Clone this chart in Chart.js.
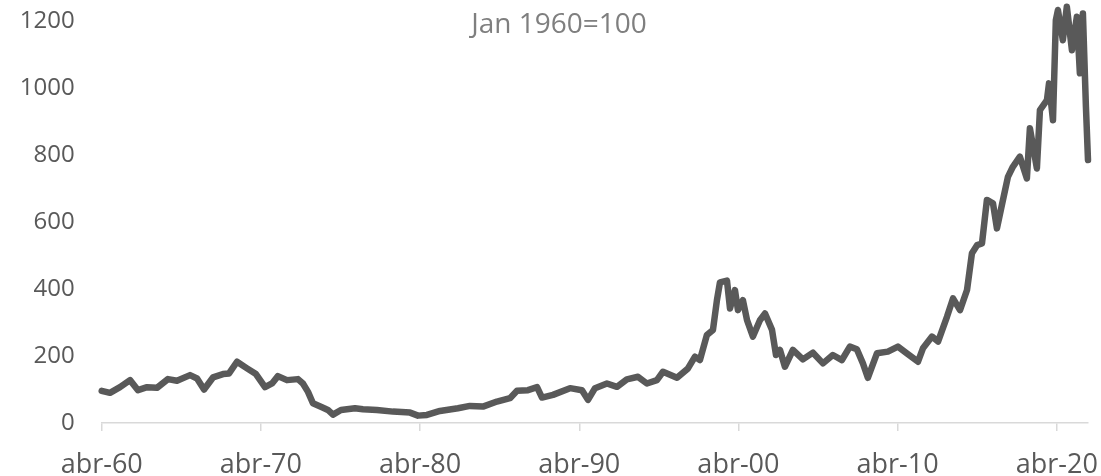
<!DOCTYPE html>
<html>
<head>
<meta charset="utf-8">
<script src="https://cdn.jsdelivr.net/npm/chart.js@4"></script>
<style>
    html, body { margin: 0; padding: 0; background: #fff; }
    canvas { display: block; }
</style>
</head>
<body>
<canvas id="indexChart" width="1101" height="476"></canvas>
<script>
// x: decimal year, y: index (Jan 1960 = 100)
const years = [
    1960.25, 1960.77, 1961.40, 1962.03, 1962.53, 1963.10, 1963.72, 1964.41, 1964.98, 1965.80,
    1966.24, 1966.68, 1967.24, 1967.87, 1968.25, 1968.75, 1969.38, 1969.94, 1970.51, 1970.95,
    1971.32, 1971.89, 1972.58, 1972.89, 1973.21, 1973.52, 1974.09, 1974.46, 1974.78, 1975.28,
    1976.16, 1976.66, 1977.54, 1978.55, 1979.62, 1980.12, 1980.68, 1981.50, 1982.63, 1983.38,
    1984.20, 1985.08, 1985.90, 1986.34, 1987.03, 1987.60, 1987.91, 1988.60, 1989.67, 1990.42,
    1990.80, 1991.24, 1991.99, 1992.62, 1993.24, 1993.94, 1994.50, 1995.13, 1995.51, 1996.39,
    1997.08, 1997.52, 1997.83, 1998.27, 1998.65, 1998.90, 1999.09, 1999.53, 1999.72, 2000.03,
    2000.22, 2000.53, 2000.79, 2001.16, 2001.60, 2001.92, 2002.36, 2002.61, 2002.86, 2003.17,
    2003.67, 2004.30, 2004.93, 2005.56, 2006.18, 2006.75, 2007.25, 2007.69, 2008.07, 2008.38,
    2008.95, 2009.64, 2010.27, 2010.83, 2011.53, 2011.84, 2012.41, 2012.79, 2013.35, 2013.73,
    2014.17, 2014.61, 2014.92, 2015.24, 2015.55, 2015.86, 2016.24, 2016.49, 2016.80, 2017.18,
    2017.49, 2017.93, 2018.37, 2018.56, 2019.00, 2019.19, 2019.63, 2019.76, 2020.01, 2020.19,
    2020.32, 2020.63, 2020.88, 2021.20, 2021.51, 2021.70, 2021.89, 2022.08, 2022.21
];
const values = [
    96, 90, 107, 128, 98, 107, 105, 131, 126, 143,
    133, 100, 136, 146, 148, 183, 163, 146, 107, 118,
    140, 128, 131, 118, 93, 59, 47, 39, 25, 39,
    44, 41, 39, 34, 31, 22, 24, 36, 44, 51,
    49, 64, 74, 96, 98, 107, 76, 84, 104, 98,
    69, 104, 118, 108, 130, 138, 118, 128, 153, 135,
    163, 198, 188, 263, 278, 367, 420, 425, 342, 397,
    337, 367, 307, 258, 307, 327, 278, 203, 218, 168,
    218, 190, 210, 178, 203, 188, 228, 220, 178, 135,
    208, 213, 228, 208, 183, 223, 258, 243, 317, 372,
    337, 397, 507, 531, 536, 666, 656, 581, 651, 735,
    765, 795, 730, 880, 760, 934, 964, 1014, 904, 1203,
    1233, 1143, 1243, 1113, 1213, 1044, 1223, 944, 785
];

const yTicks = [0, 200, 400, 600, 800, 1000, 1200];
const xTickYears = [1960.25, 1970.25, 1980.25, 1990.25, 2000.25, 2010.25, 2020.25];
const xTickLabels = ['abr-60', 'abr-70', 'abr-80', 'abr-90', 'abr-00', 'abr-10', 'abr-20'];
const chartTitle = 'Jan 1960=100';

const FONT = "'Open Sans', 'Liberation Sans', sans-serif";
const TEXT_COLOR = '#595959';
const AXIS_COLOR = '#d9d9d9';

// title sits inside the plot area, so draw it by hand
const titlePlugin = {
    id: 'insideTitle',
    afterDraw(chart) {
        const ctx = chart.ctx;
        ctx.save();
        ctx.font = `28px ${FONT}`;
        ctx.fillStyle = '#7f7f7f';
        ctx.textAlign = 'center';
        ctx.textBaseline = 'middle';
        ctx.fillText(chartTitle, 559, 25);
        ctx.restore();
    }
};

const ctx = document.getElementById('indexChart').getContext('2d');

new Chart(ctx, {
    type: 'line',
    data: {
        datasets: [{
            data: years.map((x, i) => ({ x: x, y: values[i] })),
            borderColor: '#595959',
            borderWidth: 6.5,
            pointRadius: 0,
            tension: 0,
            borderJoinStyle: 'round',
            borderCapStyle: 'round',
            fill: false,
            clip: false
        }]
    },
    options: {
        responsive: false,
        animation: false,
        devicePixelRatio: 1,
        layout: { padding: { top: 3, right: 13, bottom: 0, left: 0 } },
        plugins: {
            legend: { display: false },
            tooltip: { enabled: false },
            title: { display: false }
        },
        scales: {
            x: {
                type: 'linear',
                min: 1960.25,
                max: 2022.21,
                afterBuildTicks: axis => {
                    axis.ticks = xTickYears.map(v => ({ value: v }));
                },
                afterFit: scale => {
                    scale.height = 53;
                    scale.paddingLeft = 0;
                    scale.paddingRight = 0;
                },
                grid: {
                    drawOnChartArea: false,
                    drawTicks: true,
                    tickLength: 8,
                    color: AXIS_COLOR,
                    lineWidth: 1.5
                },
                border: { display: true, color: AXIS_COLOR, width: 1.5 },
                ticks: {
                    autoSkip: false,
                    maxRotation: 0,
                    padding: 18,
                    color: TEXT_COLOR,
                    font: { family: FONT, size: 27 },
                    callback: (value, index) => xTickLabels[index]
                }
            },
            y: {
                min: 0,
                max: 1254,
                afterBuildTicks: axis => {
                    axis.ticks = yTicks.map(v => ({ value: v }));
                },
                afterFit: scale => {
                    scale.width = 101.7;
                    scale.paddingTop = 0;
                    scale.paddingBottom = 0;
                },
                grid: { display: false, drawTicks: false },
                border: { display: false },
                ticks: {
                    padding: 27,
                    color: TEXT_COLOR,
                    font: { family: FONT, size: 24 },
                    callback: value => String(value)
                }
            }
        }
    },
    plugins: [titlePlugin]
});
</script>
</body>
</html>
